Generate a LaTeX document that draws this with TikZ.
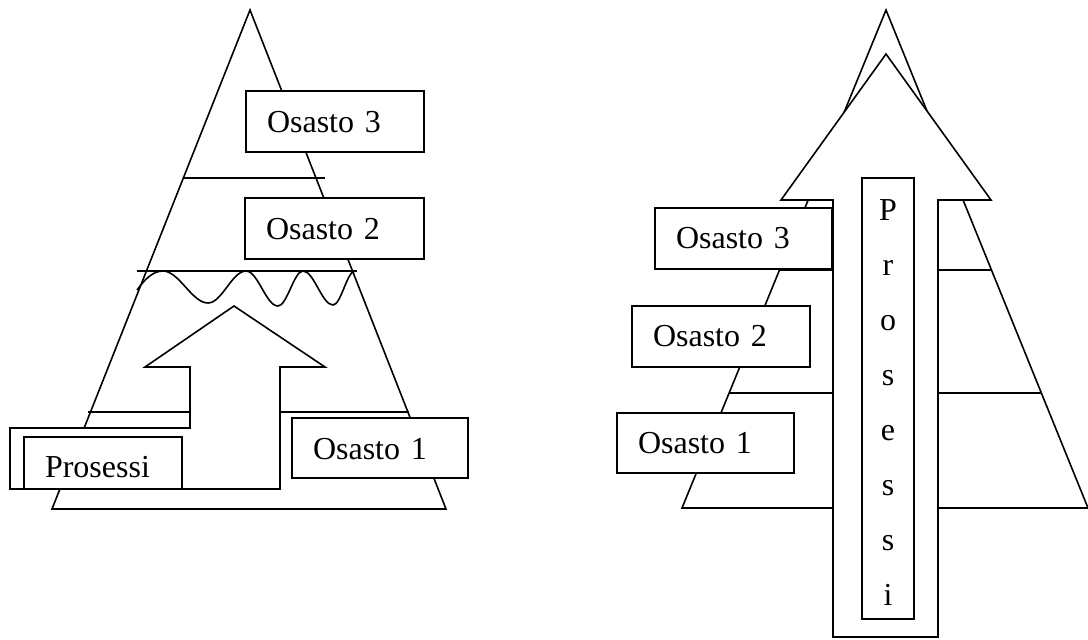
\documentclass[tikz,border=0pt]{standalone}
\usepackage{fontspec}
\setmainfont{Liberation Serif}
\begin{document}
\begin{tikzpicture}[x=0.75pt,y=-0.75pt, line width=1.2pt,
  shp/.style={draw, fill=white},
  lbl/.style={draw, fill=white, anchor=north west, outer sep=0pt, inner ysep=0pt, inner xsep=15.75pt, align=left, font=\fontsize{24}{28}\selectfont},
  letter/.style={anchor=base, inner sep=0pt, font=\fontsize{24}{28}\selectfont}]
\useasboundingbox (0,0) rectangle (1088,639);

% ---------- left pyramid ----------
\draw (250,10) -- (446,509) -- (52,509) -- cycle;
\draw (184,178) -- (325,178);
\draw (137,271) -- (357,271);
\draw (88,412) -- (409,412);
\draw (137,290) .. controls (145,279) and (153,271) .. (163,271)
  .. controls (179,271) and (192,303) .. (208,303)
  .. controls (222,303) and (232,271) .. (246,271)
  .. controls (258,271) and (266,306) .. (278,306)
  .. controls (287,306) and (294,271) .. (303,271)
  .. controls (314,271) and (322,305) .. (333,305)
  .. controls (341,305) and (347,271) .. (355,271);
\node[lbl, text width=102pt, text height=30.75pt, text depth=15pt] (l3) at (246,91) {Osasto 3};
\node[lbl, text width=102.75pt, text height=30.75pt, text depth=15pt] (l2) at (245,198) {Osasto 2};
\draw[shp] (10,428) -- (190,428) -- (190,367) -- (145,367) -- (234,306) -- (325,367)
  -- (280,367) -- (280,489) -- (10,489) -- cycle;
\node[lbl, text width=87pt, text height=30pt, text depth=9pt] (lp) at (24,437) {Prosessi};
\node[lbl, text width=100.5pt, text height=30.75pt, text depth=14.25pt] (l1) at (292,418) {Osasto 1};

% ---------- right pyramid ----------
\draw (886,10) -- (1088,508) -- (682,508) -- cycle;
\draw (779,270) -- (992,270);
\draw (729,393) -- (1041,393);
\draw[shp] (886,54) -- (991,200) -- (938,200) -- (938,637) -- (833,637) -- (833,200) -- (781,200) -- cycle;
\node[draw, fill=white, anchor=north west, outer sep=0pt, inner sep=0pt, minimum width=39pt, minimum height=330.75pt] (rp) at (862,178) {};
\foreach \c [count=\i from 0] in {P,r,o,s,e,s,s,i}
  \node[letter] (rp\i) at (888,{220+55*\i}) {\c};
\node[lbl, text width=101.25pt, text height=30pt, text depth=15.75pt] (r3) at (655,208) {Osasto 3};
\node[lbl, text width=102pt, text height=30pt, text depth=15.75pt] (r2) at (632,306) {Osasto 2};
\node[lbl, text width=101.25pt, text height=30pt, text depth=15pt] (r1) at (617,413) {Osasto 1};
\end{tikzpicture}
\end{document}
